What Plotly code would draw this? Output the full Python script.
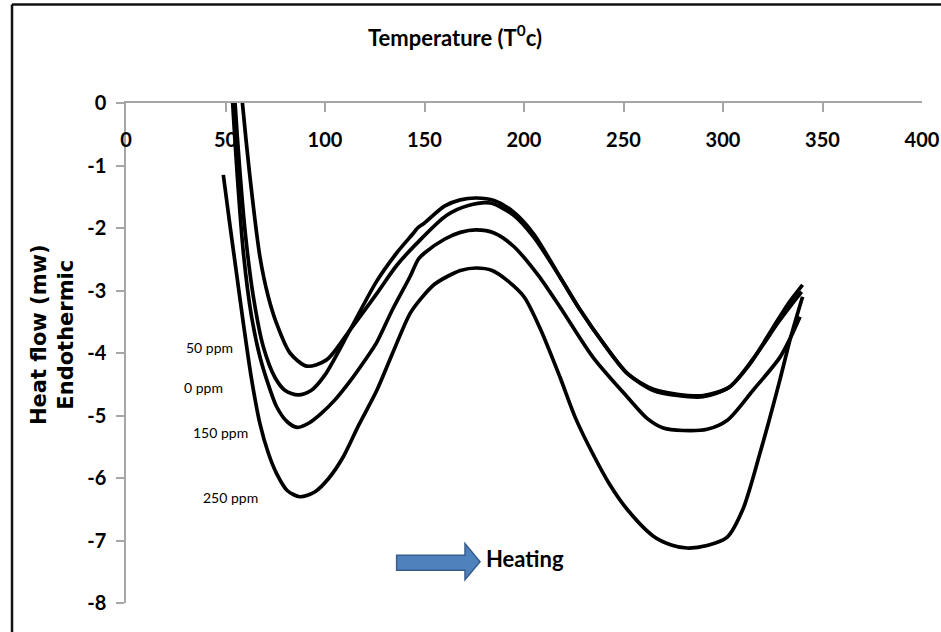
import plotly.graph_objects as go

# ---- data ----
x_50 = [57.4, 58.5, 62, 67.3, 71.5, 75.7, 82.4, 90.8, 100.8, 112.6, 126, 136, 146, 161, 172, 183,
        195, 205, 218, 228, 240, 252, 265, 277, 290, 303, 315, 328, 335, 339.5]
y_50 = [0.4, 0, -1.1, -2.46, -3.1, -3.53, -4.0, -4.21, -4.11, -3.63, -3.05, -2.6, -2.25, -1.8, -1.64, -1.6,
        -1.8, -2.15, -2.78, -3.3, -3.85, -4.33, -4.58, -4.66, -4.68, -4.55, -4.1, -3.5, -3.2, -3.02]

x_0 = [54.2, 54.8, 57, 60, 64, 69, 75, 80, 86.4, 93, 100, 112.6, 126, 136, 144.5, 146.5, 150, 160, 168, 176,
       185, 195, 205, 218, 228, 240, 252, 265, 277, 290, 303, 313, 325, 333, 340]
y_0 = [0.4, 0, -1.0, -2.1, -3.1, -3.9, -4.4, -4.6, -4.67, -4.6, -4.35, -3.63, -2.85, -2.4, -2.08, -2.0, -1.92, -1.65, -1.55, -1.52,
       -1.56, -1.75, -2.1, -2.78, -3.3, -3.85, -4.33, -4.6, -4.68, -4.7, -4.55, -4.2, -3.6, -3.2, -2.91]

x_150 = [53, 53.6, 56, 59, 63, 67.3, 72, 75.7, 81, 86.1, 92, 98, 105, 112.6, 120, 126, 134, 142.7, 146.9, 150,
         160, 168, 176, 185, 195, 207, 218, 234.7, 251.8, 262, 270, 280, 292, 302, 315, 328.6, 334, 338.7]
y_150 = [0.4, 0, -1.2, -2.4, -3.4, -4.06, -4.55, -4.86, -5.1, -5.19, -5.12, -4.97, -4.75, -4.45, -4.12, -3.83, -3.3, -2.78, -2.5, -2.4,
         -2.18, -2.07, -2.03, -2.08, -2.3, -2.75, -3.26, -4.07, -4.7, -5.05, -5.2, -5.24, -5.22, -5.08, -4.6, -4.07, -3.75, -3.42]

x_250 = [48.9, 52, 55, 59, 63, 67.3, 71.5, 75.7, 81, 87.4, 95, 102, 109.2, 117, 126, 134, 142.7, 147.7, 155, 161.2,
         168, 176, 184, 192, 200, 208, 218, 226, 234.7, 243, 251.8, 265, 274, 282, 292, 302, 310, 318.6, 323, 328.6, 334, 340]
y_250 = [-1.15, -1.9, -2.6, -3.53, -4.4, -5.13, -5.6, -5.93, -6.2, -6.3, -6.22, -6.0, -5.66, -5.15, -4.6, -4.0, -3.37, -3.15, -2.9, -2.78,
         -2.68, -2.64, -2.68, -2.85, -3.1, -3.6, -4.38, -5.05, -5.62, -6.1, -6.5, -6.93, -7.07, -7.12, -7.08, -6.95, -6.5, -5.6, -5.1, -4.43, -3.75, -3.1]

series = [("50 ppm", x_50, y_50), ("0 ppm", x_0, y_0), ("150 ppm", x_150, y_150), ("250 ppm", x_250, y_250)]

# curve labels (text, x, y)
label_text = ["50 ppm", "0 ppm", "150 ppm", "250 ppm"]
label_x = [42.2, 38.7, 47.7, 52.3]
label_y = [-3.91, -4.55, -5.27, -6.31]

x_ticks = [0, 50, 100, 150, 200, 250, 300, 350, 400]
y_ticks = [0, -1, -2, -3, -4, -5, -6, -7, -8]

FONT = "Lato"

fig = go.Figure()
for name, xs, ys in series:
    fig.add_trace(go.Scatter(x=xs, y=ys, mode="lines", name=name,
                             line=dict(color="black", width=3.7, shape="spline", smoothing=0.8),
                             showlegend=False))

for t, lx, ly in zip(label_text, label_x, label_y):
    fig.add_annotation(x=lx, y=ly, text=t, showarrow=False,
                       font=dict(family=FONT, size=14, color="black"),
                       xanchor="center", yanchor="middle")

fig.add_annotation(x=200.5, y=-7.285, text="Heating", showarrow=False,
                   font=dict(family=FONT, size=22, color="black", weight="bold"),
                   xanchor="center", yanchor="middle")

# block arrow (decoration)
ax0, axh, axt = 136, 170.35, 177.9
ab0, ab1, ah0, ah1, am = -7.237, -7.477, -7.049, -7.626, -7.341
fig.add_shape(type="path",
              path=f"M {ax0},{ab0} L {axh},{ab0} L {axh},{ah0} L {axt},{am} L {axh},{ah1} L {axh},{ab1} L {ax0},{ab1} Z",
              xref="x", yref="y", fillcolor="#4F81BD", line=dict(color="#385D8A", width=1.5))

# outer frame (left and top edges)
fig.add_shape(type="line", xref="paper", yref="paper", x0=-0.1432, x1=-0.1432, y0=-0.2, y1=1.197,
              line=dict(color="#111111", width=2.5))
fig.add_shape(type="line", xref="paper", yref="paper", x0=-0.1432, x1=1.2, y0=1.197, y1=1.197,
              line=dict(color="#111111", width=2.5))

fig.update_layout(
    width=941, height=632,
    margin=dict(l=126, r=19, t=103, b=29, autoexpand=False),
    paper_bgcolor="white", plot_bgcolor="white",
    title=dict(text="Temperature (T<sup>0</sup>c)", x=455 / 941, xref="container", xanchor="center",
               y=1 - 38 / 632, yref="container", yanchor="middle",
               font=dict(family=FONT, size=22, color="black", weight="bold")),
)

fig.update_xaxes(range=[0, 400], side="top", tickvals=x_ticks, ticktext=[str(v) for v in x_ticks],
                 ticks="inside", ticklen=9, tickcolor="#A6A6A6", tickwidth=1.5,
                 ticklabelposition="inside", ticklabeloverflow="allow", ticklabelstandoff=22,
                 tickfont=dict(family=FONT, size=20, color="black", weight="bold"), automargin=False,
                 showline=True, linecolor="#A6A6A6", linewidth=1.5, showgrid=False, zeroline=False)

pad = "&nbsp;" * 5
fig.update_yaxes(range=[-8, 0], tickvals=y_ticks, ticktext=[str(v) for v in y_ticks],
                 ticks="outside", ticklen=8, tickcolor="#A6A6A6", tickwidth=1.5, ticklabelstandoff=6,
                 tickfont=dict(family=FONT, size=20, color="black", weight="bold"), automargin=False,
                 showline=True, linecolor="#A6A6A6", linewidth=1.5, showgrid=False, zeroline=False,
                 title=dict(text=pad + "Heat flow (mw)<br>" + pad + "Endothermic", standoff=8,
                            font=dict(family="DejaVu Sans", size=21, color="black", weight="bold")))

fig.write_html("out.html")
